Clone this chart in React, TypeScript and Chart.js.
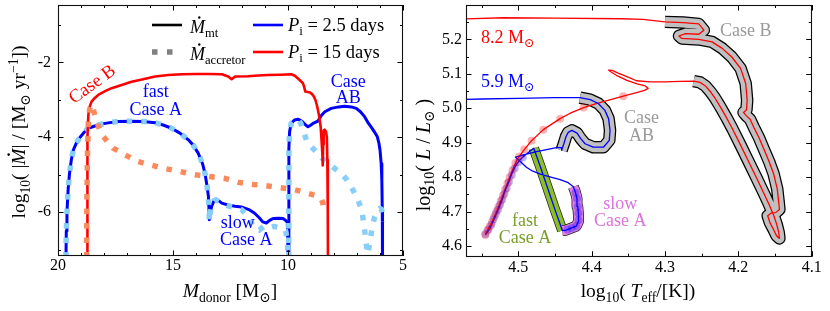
import React, { useEffect, useRef } from 'react';
import { Chart, registerables } from 'chart.js';
Chart.register(...registerables);

type P = [number, number];
const FONT = "'Liberation Serif', 'DejaVu Serif', serif";

// ---------------- Left panel data ----------------
const leftXTicks = [20, 15, 10, 5];
const leftXMinor = [19, 18, 17, 16, 14, 13, 12, 11, 9, 8, 7, 6];
const leftYTicks = [-6, -4, -2];
const leftYMinor = [-7, -5, -3, -1];

// P = 2.5 days, donor mass-transfer rate (fast + slow Case A)
const blueMtA: P[] = [
  [19.66, -7.6], [19.64, -6.5], [19.61, -6.0], [19.56, -5.4], [19.5, -4.97], [19.42, -4.6], [19.34, -4.35],
  [19.2, -4.15], [19.04, -4.0], [18.85, -3.86], [18.68, -3.76], [18.3, -3.68], [17.96, -3.63], [17.4, -3.58],
  [16.8, -3.57], [16.3, -3.58], [15.78, -3.61], [15.4, -3.68], [15.06, -3.76], [14.7, -3.89], [14.33, -4.07],
  [14.1, -4.23], [13.9, -4.43], [13.72, -4.7], [13.61, -4.96], [13.52, -5.3], [13.46, -5.58], [13.43, -6.0],
  [13.42, -6.2], [13.38, -6.0], [13.32, -5.85], [13.22, -5.7], [13.14, -5.65], [13.0, -5.7], [12.88, -5.76],
  [12.61, -5.81], [12.3, -5.84], [12.03, -5.86], [11.7, -5.93], [11.45, -6.03], [11.25, -6.15], [11.1, -6.26],
  [10.94, -6.29], [10.8, -6.22], [10.65, -6.17], [10.4, -6.16], [10.22, -6.17], [10.1, -6.22], [10.03, -6.27],
  [10.01, -6.8], [10.0, -7.6],
];
// P = 2.5 days, donor mass-transfer rate (Case AB)
const blueMtB: P[] = [
  [9.97, -7.6], [9.965, -6.5], [9.96, -5.0], [9.96, -4.3], [9.93, -3.85], [9.86, -3.63], [9.72, -3.54],
  [9.57, -3.52], [9.45, -3.55], [9.35, -3.6], [9.22, -3.68], [9.13, -3.72], [9.02, -3.68], [8.91, -3.63],
  [8.7, -3.57], [8.55, -3.42], [8.4, -3.32], [8.12, -3.23], [7.8, -3.19], [7.54, -3.17], [7.25, -3.19],
  [7.03, -3.23], [6.85, -3.32], [6.67, -3.45], [6.5, -3.63], [6.38, -3.73], [6.25, -3.85], [6.12, -3.98],
  [6.05, -4.15], [6.0, -4.34], [5.95, -4.7], [5.92, -5.14], [5.9, -6.0], [5.89, -7.6],
];
// P = 2.5 days, accretor rate
const blueAccA: P[] = [
  [19.66, -7.6], [19.64, -6.5], [19.61, -6.0], [19.56, -5.4], [19.5, -4.97], [19.42, -4.6], [19.34, -4.35],
  [19.2, -4.15], [19.04, -4.0], [18.85, -3.86], [18.68, -3.76], [18.3, -3.68], [17.96, -3.63], [17.4, -3.58],
  [16.8, -3.57], [16.3, -3.58], [15.78, -3.61], [15.4, -3.68], [15.06, -3.76], [14.7, -3.89], [14.33, -4.07],
  [14.1, -4.23], [13.9, -4.43], [13.72, -4.7], [13.61, -4.96], [13.52, -5.3], [13.46, -5.58], [13.43, -6.0],
  [13.42, -6.25], [13.38, -6.0], [13.32, -5.85], [13.22, -5.7], [13.14, -5.67], [13.0, -5.72], [12.88, -5.78],
  [12.61, -5.83], [12.3, -5.88], [12.03, -5.93], [11.75, -6.08], [11.5, -6.4], [11.25, -6.48], [11.05, -6.38],
  [10.8, -6.42], [10.6, -6.38], [10.3, -6.42], [10.1, -6.5], [10.02, -6.8], [10.0, -7.6],
];
const blueAccB: P[] = [
  [9.97, -7.6], [9.965, -6.5], [9.96, -5.0], [9.96, -4.3], [9.93, -3.85], [9.86, -3.63], [9.72, -3.54],
  [9.57, -3.52], [9.45, -3.62], [9.35, -3.8], [9.2, -4.07], [9.0, -4.25], [8.7, -4.43], [8.5, -4.57],
  [8.26, -4.69], [8.0, -4.82], [7.68, -4.96], [7.45, -5.13], [7.25, -5.32], [7.1, -5.5], [6.96, -5.67],
  [6.85, -5.85], [6.77, -6.03], [6.67, -6.47], [6.6, -6.85], [6.53, -7.12], [6.47, -6.9], [6.42, -6.7],
  [6.38, -6.56], [6.3, -6.3], [6.23, -6.12], [6.1, -5.95], [6.01, -5.9], [5.93, -5.93], [5.88, -6.05],
  [5.85, -6.25],
];
// P = 15 days, donor rate
const redMt: P[] = [
  [18.73, -7.6], [18.73, -6.0], [18.72, -5.0], [18.71, -4.0], [18.68, -3.4], [18.63, -3.2], [18.54, -3.05],
  [18.4, -2.95], [18.25, -2.87], [17.95, -2.77], [17.67, -2.69], [17.2, -2.6], [16.8, -2.52], [16.3, -2.45],
  [15.78, -2.38], [15.2, -2.34], [14.62, -2.32], [14.0, -2.31], [13.4, -2.31], [12.88, -2.32], [12.6, -2.38],
  [12.45, -2.45], [12.3, -2.38], [11.74, -2.37], [11.3, -2.35], [10.87, -2.34], [10.3, -2.33], [9.86, -2.32],
  [9.7, -2.36], [9.57, -2.43], [9.45, -2.5], [9.35, -2.56], [9.3, -2.65], [9.25, -2.78], [9.15, -2.79],
  [9.06, -2.8], [8.95, -2.85], [8.87, -2.92], [8.8, -3.02], [8.73, -3.18], [8.65, -3.42], [8.58, -3.72],
  [8.54, -4.1], [8.51, -4.4], [8.49, -4.75], [8.47, -4.2], [8.45, -3.82], [8.41, -3.8], [8.35, -3.85],
  [8.31, -4.0], [8.29, -4.6], [8.27, -6.0], [8.26, -7.6],
];
// P = 15 days, accretor rate
const redAcc: P[] = [
  [18.75, -7.6], [18.75, -6.5], [18.74, -5.5], [18.72, -4.5], [18.68, -3.6], [18.62, -3.25], [18.54, -3.12],
  [18.46, -3.27], [18.38, -3.45], [18.32, -3.58], [18.2, -3.78], [18.03, -3.98], [17.8, -4.15], [17.6, -4.29],
  [17.3, -4.4], [17.09, -4.47], [16.8, -4.56], [16.51, -4.65], [16.1, -4.72], [15.78, -4.77], [15.4, -4.83],
  [15.06, -4.87], [14.5, -4.94], [14.04, -5.0], [13.4, -5.05], [12.74, -5.1], [12.17, -5.2], [11.5, -5.26],
  [10.87, -5.3], [10.3, -5.35], [9.71, -5.4], [9.4, -5.45], [9.13, -5.5], [8.9, -5.54], [8.7, -5.58],
  [8.55, -5.65], [8.48, -5.76], [8.46, -5.88],
];

// ---------------- Right panel data ----------------
const rightXTicks = [4.5, 4.4, 4.3, 4.2, 4.1];
const rightXMinor = [4.55, 4.45, 4.35, 4.25, 4.15];
const rightYTicks = [4.6, 4.7, 4.8, 4.9, 5.0, 5.1, 5.2];
const rightYMinor = [4.65, 4.75, 4.85, 4.95, 5.05, 5.15, 5.25];

// P = 15 days donor track (log Teff, log L)
const redMS: P[] = [
  [4.545, 4.632], [4.541, 4.65], [4.536, 4.669], [4.529, 4.703], [4.523, 4.737], [4.517, 4.771], [4.51, 4.81],
  [4.505, 4.835], [4.5, 4.857], [4.493, 4.877], [4.482, 4.906], [4.466, 4.938], [4.443, 4.97], [4.43, 4.985],
  [4.411, 5.002], [4.395, 5.013], [4.379, 5.022], [4.357, 5.035], [4.34, 5.045], [4.328, 5.052], [4.323, 5.058],
  [4.327, 5.065], [4.338, 5.071], [4.352, 5.081], [4.365, 5.094], [4.374, 5.106], [4.377, 5.111], [4.372, 5.11],
  [4.364, 5.102], [4.352, 5.092], [4.339, 5.08], [4.32, 5.077], [4.3, 5.077], [4.28, 5.078], [4.261, 5.079],
];
const caseB: P[] = [
  [4.261, 5.079], [4.252, 5.075], [4.245, 5.065], [4.238, 5.048], [4.232, 5.03], [4.224, 5.002], [4.216, 4.972],
  [4.208, 4.94], [4.197, 4.893], [4.186, 4.845], [4.175, 4.797], [4.165, 4.752], [4.158, 4.72], [4.152, 4.69],
  [4.148, 4.665], [4.145, 4.64], [4.144, 4.622], [4.148, 4.63], [4.152, 4.648], [4.157, 4.668], [4.16, 4.688],
  [4.155, 4.696], [4.149, 4.697], [4.144, 4.706], [4.145, 4.727], [4.147, 4.766], [4.152, 4.81], [4.158, 4.845],
  [4.165, 4.88], [4.172, 4.915], [4.179, 4.945], [4.184, 4.968], [4.189, 4.978], [4.193, 4.988], [4.189, 4.995],
  [4.188, 5.023], [4.19, 5.072], [4.197, 5.116], [4.209, 5.149], [4.222, 5.174], [4.236, 5.193], [4.254, 5.2],
  [4.277, 5.203], [4.281, 5.21], [4.272, 5.217], [4.254, 5.215], [4.247, 5.227], [4.254, 5.245], [4.275, 5.249],
  [4.3, 5.251],
];
const redTop: P[] = [[4.3, 5.251], [4.33, 5.258], [4.36, 5.26], [4.45, 5.262], [4.52, 5.263], [4.6, 5.258]];

// P = 2.5 days donor track
const blueMS: P[] = [
  [4.545, 4.633], [4.539, 4.65], [4.533, 4.678], [4.527, 4.708], [4.522, 4.735], [4.518, 4.761], [4.513, 4.786],
  [4.509, 4.81], [4.504, 4.832], [4.498, 4.85], [4.49, 4.866], [4.479, 4.884],
];
const fastA: P[] = [[4.479, 4.884], [4.47, 4.83], [4.46, 4.768], [4.45, 4.705], [4.44, 4.645]];
const slowA: P[] = [
  [4.44, 4.645], [4.435, 4.646], [4.428, 4.652], [4.421, 4.658], [4.418, 4.672], [4.418, 4.69], [4.419, 4.715],
  [4.42, 4.737], [4.422, 4.755], [4.425, 4.772],
];
const blueReturn: P[] = [
  [4.425, 4.772], [4.432, 4.784], [4.443, 4.793], [4.457, 4.801], [4.47, 4.809], [4.481, 4.818], [4.489, 4.829],
  [4.497, 4.845], [4.504, 4.858],
];
const blueToAB: P[] = [[4.504, 4.858], [4.49, 4.866], [4.475, 4.874], [4.46, 4.881], [4.448, 4.886], [4.441, 4.886]];
const caseAB: P[] = [
  [4.441, 4.878], [4.438, 4.897], [4.435, 4.918], [4.432, 4.93], [4.427, 4.936], [4.42, 4.928], [4.415, 4.912],
  [4.409, 4.897], [4.398, 4.887], [4.384, 4.887], [4.376, 4.907], [4.375, 4.936], [4.377, 4.97], [4.382, 4.994],
  [4.391, 5.014], [4.402, 5.025], [4.416, 5.031],
];
const blueTop: P[] = [[4.416, 5.031], [4.45, 5.031], [4.5, 5.029], [4.55, 5.027], [4.6, 5.025]];

const redDots: P[] = [
  [4.545, 4.632], [4.542, 4.645], [4.539, 4.657], [4.536, 4.669], [4.533, 4.685], [4.53, 4.7], [4.527, 4.715],
  [4.524, 4.731], [4.521, 4.747], [4.518, 4.764], [4.515, 4.782], [4.512, 4.8], [4.508, 4.82], [4.504, 4.841],
  [4.499, 4.86], [4.492, 4.88], [4.482, 4.906], [4.466, 4.938], [4.443, 4.97], [4.411, 5.002], [4.357, 5.035],
];
const blueDots: P[] = [
  [4.545, 4.635], [4.541, 4.648], [4.537, 4.662], [4.534, 4.678], [4.531, 4.692], [4.528, 4.705], [4.525, 4.72],
  [4.522, 4.735], [4.519, 4.752], [4.516, 4.768], [4.513, 4.786], [4.509, 4.806], [4.505, 4.826], [4.5, 4.843],
  [4.494, 4.857], [4.433, 4.648], [4.427, 4.652], [4.421, 4.658], [4.418, 4.675], [4.418, 4.695], [4.419, 4.715],
  [4.42, 4.737], [4.422, 4.755],
];

// ---------------- helpers ----------------
type Seg = { t: string; i?: boolean; s?: 'sub' | 'sup'; dot?: boolean };

function drawRich(ctx: CanvasRenderingContext2D, segs: Seg[], x: number, y: number, size: number,
  color: string, align: 'left' | 'center' | 'right' = 'center', rot = 0) {
  ctx.save();
  ctx.translate(x, y);
  ctx.rotate(rot);
  ctx.fillStyle = color;
  ctx.textBaseline = 'alphabetic';
  const parts = segs.map((sg) => {
    const fs = sg.s ? size * 0.7 : size;
    const font = `${sg.i ? 'italic ' : ''}${fs}px ${FONT}`;
    ctx.font = font;
    const w = ctx.measureText(sg.t).width;
    const dy = sg.s === 'sub' ? size * 0.22 : sg.s === 'sup' ? -size * 0.4 : 0;
    return { sg, font, w, dy };
  });
  const total = parts.reduce((a, p) => a + p.w, 0);
  let cx = align === 'center' ? -total / 2 : align === 'right' ? -total : 0;
  const base = size * 0.33;
  for (const p of parts) {
    ctx.font = p.font;
    ctx.fillText(p.sg.t, cx, base + p.dy);
    if (p.sg.dot) {
      ctx.beginPath();
      ctx.arc(cx + p.w * 0.62, base - size * 0.86, size * 0.065, 0, Math.PI * 2);
      ctx.fill();
    }
    cx += p.w;
  }
  ctx.restore();
}

function drawFrameTicks(chart: any, xMaj: number[], xMin: number[], yMaj: number[], yMin: number[]) {
  const { ctx, chartArea: a } = chart;
  const sx = chart.scales.x, sy = chart.scales.y;
  const L = 5.5, l = 3;
  ctx.save();
  ctx.strokeStyle = '#000';
  ctx.lineWidth = 1;
  ctx.beginPath();
  const xs = (vals: number[], len: number) => vals.forEach((v) => {
    const p = Math.round(sx.getPixelForValue(v)) + 0.5;
    ctx.moveTo(p, a.bottom); ctx.lineTo(p, a.bottom - len);
    ctx.moveTo(p, a.top); ctx.lineTo(p, a.top + len);
  });
  const ys = (vals: number[], len: number) => vals.forEach((v) => {
    const p = Math.round(sy.getPixelForValue(v)) + 0.5;
    if (p < a.top || p > a.bottom) return;
    ctx.moveTo(a.left, p); ctx.lineTo(a.left + len, p);
    ctx.moveTo(a.right, p); ctx.lineTo(a.right - len, p);
  });
  xs(xMaj, L); xs(xMin, l); ys(yMaj, L); ys(yMin, l);
  ctx.stroke();
  ctx.lineWidth = 1.1;
  ctx.strokeStyle = '#111';
  ctx.strokeRect(Math.round(a.left) + 0.5, Math.round(a.top) + 0.5,
    Math.round(a.right - a.left) - 1, Math.round(a.bottom - a.top) - 1);
  ctx.restore();
}

const ln = (data: P[], color: string, width: number, order: number, dash: number[] = []) => ({
  data: data.map(([x, y]) => ({ x, y })),
  showLine: true,
  borderColor: color,
  backgroundColor: color,
  borderWidth: width,
  pointRadius: 0,
  borderDash: dash,
  borderCapStyle: 'butt',
  borderJoinStyle: 'round',
  fill: false,
  tension: 0,
  clip: 0,
  order,
});

const dots = (data: P[], color: string, order: number) => ({
  data: data.map(([x, y]) => ({ x, y })),
  showLine: false,
  pointRadius: 4,
  pointBackgroundColor: color,
  pointBorderWidth: 0,
  clip: 0,
  order,
});

const tickFont = { family: FONT, size: 16 };
const noPad = (s: any) => { s.paddingTop = 0; s.paddingBottom = 0; s.paddingLeft = 0; s.paddingRight = 0; };

// ---------------- Left chart ----------------
const leftNotes: { x: number; y: number; t: string; c: string; al: 'left' | 'center'; rot?: number }[] = [
  { x: 18.53, y: -2.57, t: 'Case B', c: '#ff0000', al: 'center', rot: -36 },
  { x: 15.75, y: -2.77, t: 'fast', c: '#0000ff', al: 'center' },
  { x: 15.75, y: -3.26, t: 'Case A', c: '#0000ff', al: 'center' },
  { x: 12.92, y: -6.27, t: 'slow', c: '#0000ff', al: 'left' },
  { x: 12.96, y: -6.73, t: 'Case A', c: '#0000ff', al: 'left' },
  { x: 7.38, y: -2.49, t: 'Case', c: '#0000ff', al: 'center' },
  { x: 7.38, y: -2.93, t: 'AB', c: '#0000ff', al: 'center' },
];

const leftDeco = {
  id: 'leftDeco',
  afterDraw(chart: any) {
    const { ctx } = chart;
    const sx = chart.scales.x, sy = chart.scales.y;
    drawFrameTicks(chart, leftXTicks, leftXMinor, leftYTicks, leftYMinor);
    for (const n of leftNotes) {
      drawRich(ctx, [{ t: n.t }], sx.getPixelForValue(n.x), sy.getPixelForValue(n.y), n.rot ? 18.5 : 18, n.c, n.al,
        ((n.rot || 0) * Math.PI) / 180);
    }
    // legend
    const y1 = 25, y2 = 52;
    ctx.save();
    ctx.lineCap = 'butt';
    ctx.lineWidth = 2.6;
    ctx.strokeStyle = '#000';
    ctx.beginPath(); ctx.moveTo(152, y1); ctx.lineTo(182, y1); ctx.stroke();
    ctx.strokeStyle = '#0000ff';
    ctx.beginPath(); ctx.moveTo(253, y1); ctx.lineTo(283, y1); ctx.stroke();
    ctx.strokeStyle = '#ff0000';
    ctx.beginPath(); ctx.moveTo(253, y2); ctx.lineTo(283, y2); ctx.stroke();
    ctx.strokeStyle = '#808080';
    ctx.lineWidth = 5.5;
    ctx.setLineDash([5.5, 9.5]);
    ctx.beginPath(); ctx.moveTo(152, y2); ctx.lineTo(182, y2); ctx.stroke();
    ctx.restore();
    drawRich(ctx, [{ t: 'M', i: true, dot: true }, { t: 'mt', s: 'sub' }], 190, y1 + 2, 18, '#000', 'left');
    drawRich(ctx, [{ t: 'M', i: true, dot: true }, { t: 'accretor', s: 'sub' }], 190, y2 + 2, 18, '#000', 'left');
    drawRich(ctx, [{ t: 'P', i: true }, { t: 'i', s: 'sub' }, { t: ' = 2.5 days' }], 288, y1, 18.5, '#000', 'left');
    drawRich(ctx, [{ t: 'P', i: true }, { t: 'i', s: 'sub' }, { t: ' = 15 days' }], 288, y2, 18.5, '#000', 'left');
    // axis titles
    drawRich(ctx, [{ t: 'M', i: true }, { t: 'donor', s: 'sub' }, { t: ' [M' }, { t: '⊙', s: 'sub' }, { t: ']' }],
      230, 291, 19.5, '#000', 'center');
    drawRich(ctx, [{ t: 'log' }, { t: '10', s: 'sub' }, { t: '( |' }, { t: 'M', i: true, dot: true }, { t: '| / [M' },
      { t: '⊙', s: 'sub' }, { t: ' yr' }, { t: '−1', s: 'sup' }, { t: '])' }],
      19, 132, 19.5, '#000', 'center', -Math.PI / 2);
  },
};

function leftConfig(): any {
  return {
    type: 'scatter',
    data: {
      datasets: [
        ln(redAcc, '#fa8a5c', 5.5, 1, [5.5, 9]),
        ln(redMt, '#ff0000', 2.6, 2),
        ln(blueAccA, '#87cefa', 5.5, 3, [5.5, 9]),
        ln(blueAccB, '#87cefa', 5.5, 3, [5.5, 9]),
        ln(blueMtA, '#0000ff', 3, 4),
        ln(blueMtB, '#0000ff', 3, 4),
      ],
    },
    options: {
      responsive: false,
      animation: false,
      devicePixelRatio: 1,
      events: [],
      layout: { padding: { left: 0, right: 7, top: 5, bottom: 0 } },
      plugins: { legend: { display: false }, tooltip: { enabled: false } },
      scales: {
        x: {
          type: 'linear', reverse: true, min: 5, max: 20,
          afterBuildTicks: (s: any) => { s.ticks = leftXTicks.map((v) => ({ value: v })); },
          afterFit: (s: any) => { s.height = 55; noPad(s); },
          grid: { display: false, drawTicks: false },
          border: { display: false },
          ticks: { font: tickFont, color: '#000', padding: 0, maxRotation: 0, autoSkip: false },
        },
        y: {
          type: 'linear', min: -7.17, max: -0.47,
          afterBuildTicks: (s: any) => { s.ticks = leftYTicks.map((v) => ({ value: v })); },
          afterFit: (s: any) => { s.width = 58; noPad(s); },
          grid: { display: false, drawTicks: false },
          border: { display: false },
          ticks: { font: tickFont, color: '#000', padding: 7, autoSkip: false, callback: (v: number) => String(v) },
        },
      },
    },
    plugins: [leftDeco],
  };
}

// ---------------- Right chart ----------------
const GRAY_T = '#9a9a9a';
const GREEN = '#8cbf26';
const VIOLET = '#e47fe6';
const rightNotes: { x: number; y: number; segs: Seg[]; c: string; al: 'left' | 'center' }[] = [
  { x: 4.551, y: 5.208, segs: [{ t: '8.2 M' }, { t: '⊙', s: 'sub' }], c: '#ff0000', al: 'left' },
  { x: 4.551, y: 5.079, segs: [{ t: '5.9 M' }, { t: '⊙', s: 'sub' }], c: '#0000ff', al: 'left' },
  { x: 4.19, y: 5.227, segs: [{ t: 'Case B' }], c: GRAY_T, al: 'center' },
  { x: 4.332, y: 4.975, segs: [{ t: 'Case' }], c: GRAY_T, al: 'center' },
  { x: 4.332, y: 4.921, segs: [{ t: 'AB' }], c: GRAY_T, al: 'center' },
  { x: 4.491, y: 4.674, segs: [{ t: 'fast' }], c: '#7a9e2c', al: 'center' },
  { x: 4.491, y: 4.625, segs: [{ t: 'Case A' }], c: '#7a9e2c', al: 'center' },
  { x: 4.361, y: 4.724, segs: [{ t: 'slow' }], c: '#dc72dc', al: 'center' },
  { x: 4.361, y: 4.674, segs: [{ t: 'Case A' }], c: '#dc72dc', al: 'center' },
];

const rightDeco = {
  id: 'rightDeco',
  afterDraw(chart: any) {
    const { ctx } = chart;
    const sx = chart.scales.x, sy = chart.scales.y;
    drawFrameTicks(chart, rightXTicks, rightXMinor, rightYTicks, rightYMinor);
    for (const n of rightNotes) {
      drawRich(ctx, n.segs, sx.getPixelForValue(n.x), sy.getPixelForValue(n.y), 18, n.c, n.al);
    }
    drawRich(ctx, [{ t: 'log' }, { t: '10', s: 'sub' }, { t: '( ' }, { t: 'T', i: true }, { t: 'eff', s: 'sub' },
      { t: '/[K])' }], 228, 291, 19.5, '#000', 'center');
    drawRich(ctx, [{ t: 'log' }, { t: '10', s: 'sub' }, { t: '( ' }, { t: 'L', i: true }, { t: ' / ' },
      { t: 'L', i: true }, { t: '⊙', s: 'sub' }, { t: ' )' }], 13, 155, 20, '#000', 'center', -Math.PI / 2);
  },
};

function rightConfig(): any {
  const redTrack = [...redMS, ...caseB, ...redTop];
  const blueTrack = [...blueMS, ...fastA, ...slowA, ...blueReturn, ...blueToAB, ...caseAB, ...blueTop];
  return {
    type: 'scatter',
    data: {
      datasets: [
        dots(redDots, 'rgba(255,0,0,0.3)', 1),
        dots(blueDots, 'rgba(0,0,255,0.3)', 2),
        ln(blueTrack, '#0000ff', 1.3, 3),
        ln(redTrack, '#ff0000', 1.3, 4),
        ln(caseAB, '#c0c0c0', 10, 10),
        ln(caseAB, '#000000', 12.5, 11),
        ln(caseB, '#c0c0c0', 10, 12),
        ln(caseB, '#000000', 12.5, 13),
        ln(slowA, VIOLET, 9.5, 14),
        ln(slowA, '#222222', 11, 15),
        ln(fastA, GREEN, 9, 16),
        ln(fastA, '#222222', 10.5, 17),
      ],
    },
    options: {
      responsive: false,
      animation: false,
      devicePixelRatio: 1,
      events: [],
      layout: { padding: { left: 0, right: 18.3, top: 5, bottom: 0 } },
      plugins: { legend: { display: false }, tooltip: { enabled: false } },
      scales: {
        x: {
          type: 'linear', reverse: true, min: 4.1, max: 4.5714,
          afterBuildTicks: (s: any) => { s.ticks = rightXTicks.map((v) => ({ value: v })); },
          afterFit: (s: any) => { s.height = 54.3; noPad(s); },
          grid: { display: false, drawTicks: false },
          border: { display: false },
          ticks: { font: tickFont, color: '#000', padding: 1, maxRotation: 0, autoSkip: false,
            callback: (v: number) => v.toFixed(1) },
        },
        y: {
          type: 'linear', min: 4.569, max: 5.3,
          afterBuildTicks: (s: any) => { s.ticks = rightYTicks.map((v) => ({ value: v })); },
          afterFit: (s: any) => { s.width = 56; noPad(s); },
          grid: { display: false, drawTicks: false },
          border: { display: false },
          ticks: { font: tickFont, color: '#000', padding: 4, autoSkip: false, callback: (v: number) => v.toFixed(1) },
        },
      },
    },
    plugins: [rightDeco],
  };
}

export default function App() {
  const lRef = useRef<HTMLCanvasElement>(null);
  const rRef = useRef<HTMLCanvasElement>(null);
  useEffect(() => {
    const c1 = new Chart(lRef.current as HTMLCanvasElement, leftConfig());
    const c2 = new Chart(rRef.current as HTMLCanvasElement, rightConfig());
    return () => { c1.destroy(); c2.destroy(); };
  }, []);
  return (
    <div style={{ position: 'absolute', left: 0, top: 0, width: 830, height: 311, background: '#fff' }}>
      <canvas ref={lRef} width={410} height={311} style={{ position: 'absolute', left: 0, top: 0 }} />
      <canvas ref={rRef} width={420} height={311} style={{ position: 'absolute', left: 410, top: 0 }} />
    </div>
  );
}
